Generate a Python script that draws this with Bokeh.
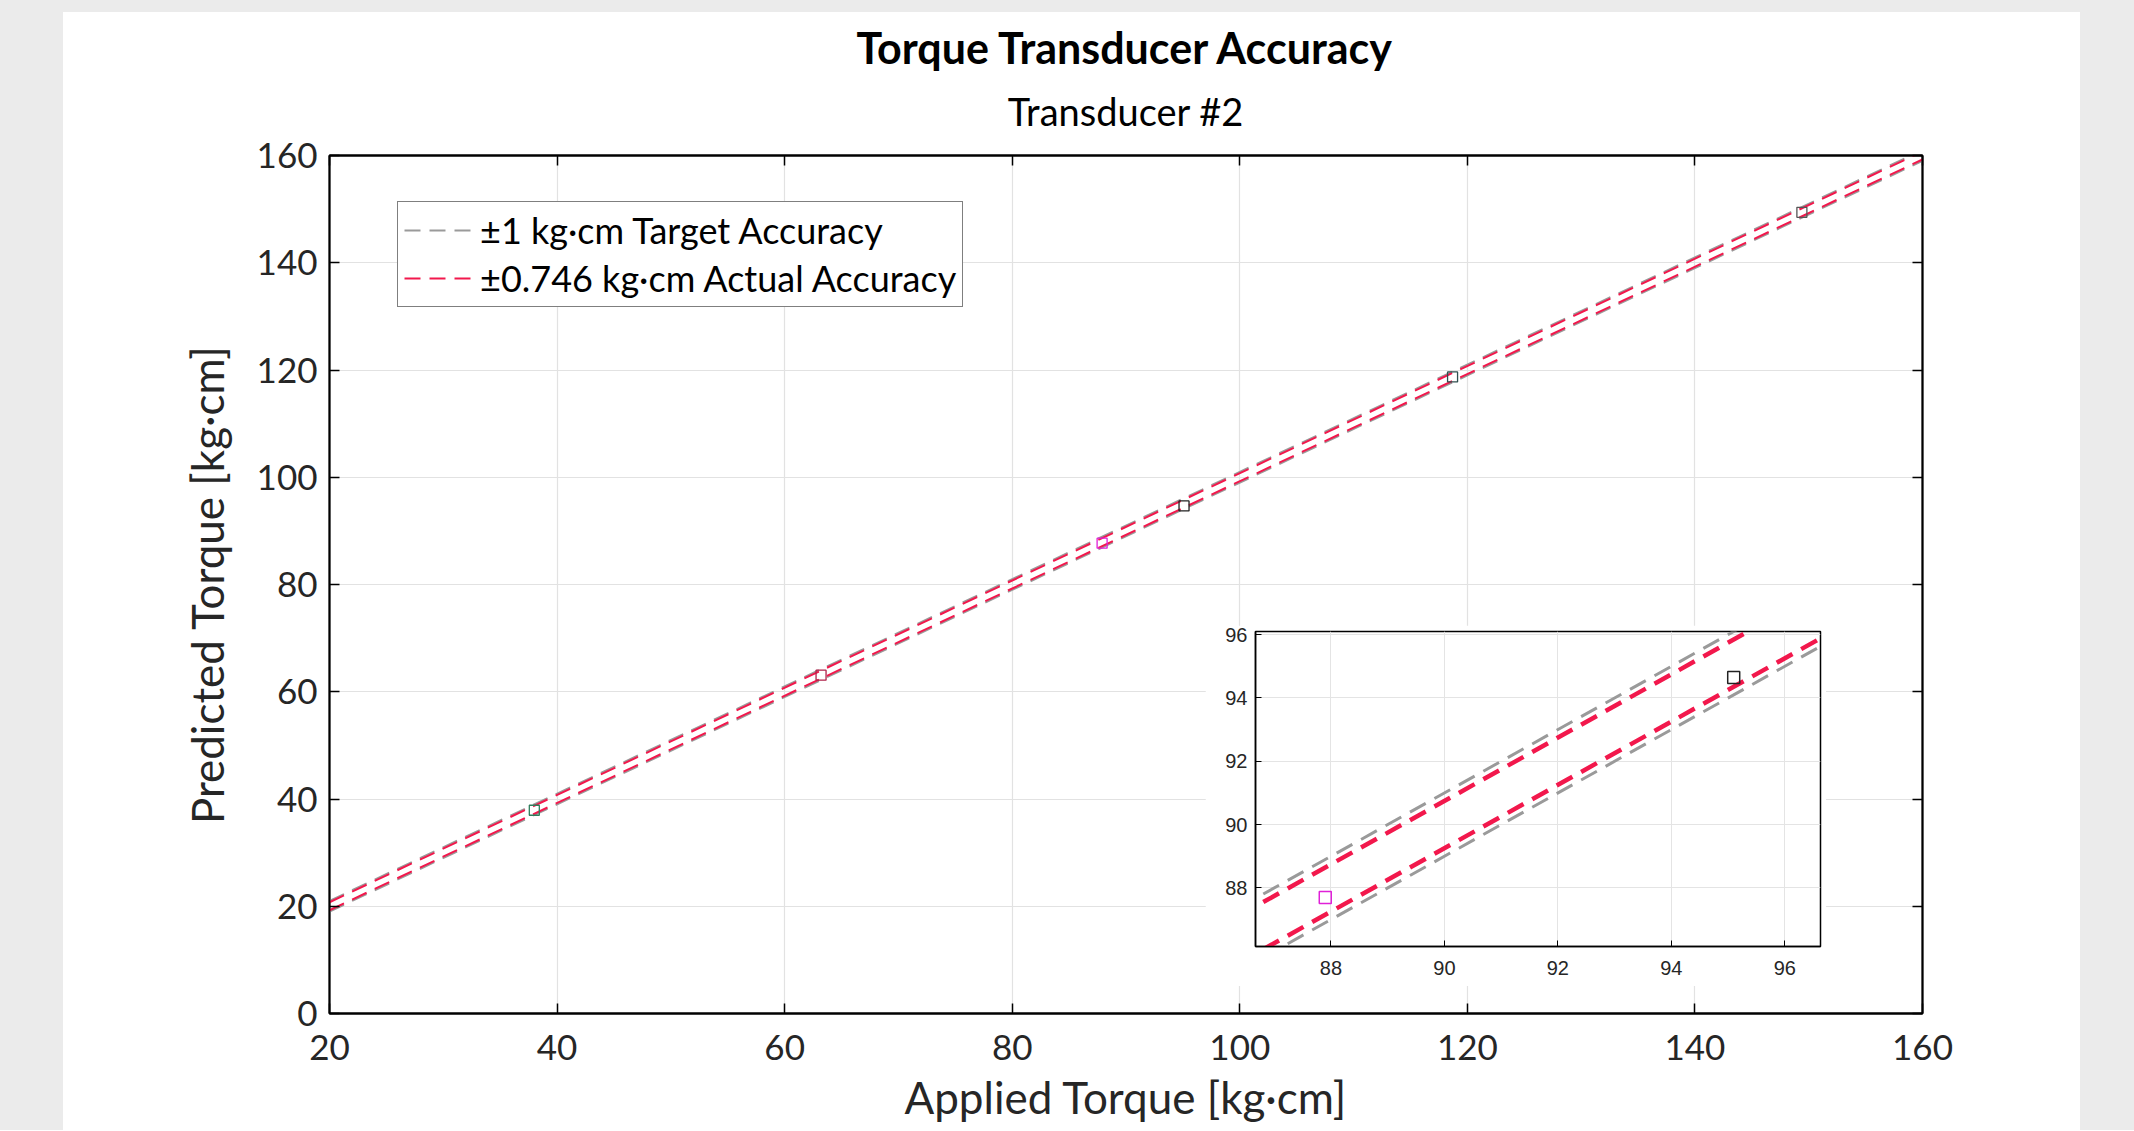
from bokeh.plotting import figure
from bokeh.models import (Title, LinearAxis, FixedTicker, Legend, LegendItem,
                          Spacer, Range1d, CustomLabelingPolicy)
from bokeh.layouts import column, row
from bokeh.embed import file_html
from bokeh.resources import INLINE

# ---------------- data ----------------
title_text = "Torque Transducer Accuracy"
subtitle_text = "Transducer #2"
x_label = "Applied Torque [kg\u00b7cm]"
y_label = "Predicted Torque [kg\u00b7cm]"
target_label = "\u00b11 kg\u00b7cm Target Accuracy"
actual_label = "\u00b10.746 kg\u00b7cm Actual Accuracy"

x_ticks = [20, 40, 60, 80, 100, 120, 140, 160]
y_ticks = [0, 20, 40, 60, 80, 100, 120, 140, 160]

applied = [38.0, 63.2, 87.9, 95.1, 118.7, 149.4]
predicted = [37.9, 63.1, 87.7, 94.65, 118.7, 149.4]
point_colors = ["#2e7d5b", "#b0224a", "#e020d8", "#222222", "#2f4f4f", "#555555"]

band_x = [20, 160]
target_upper = [21.0, 161.0]
target_lower = [19.0, 159.0]
actual_upper = [20.746, 160.746]
actual_lower = [19.254, 159.254]

inset_x_ticks = [88, 90, 92, 94, 96]
inset_y_ticks = [88, 90, 92, 94, 96]
inset_applied = [87.9, 95.1]
inset_predicted = [87.7, 94.65]
inset_colors = ["#e020d8", "#222222"]

GRAY = "#9a9a9a"
RED = "#f2184c"
FONT = "Lato"
AX = "#262626"

# ---------------- main figure ----------------
p = figure(width=2017, height=1118, x_range=Range1d(20, 160), y_range=Range1d(0, 160),
           output_backend="svg", toolbar_location=None, title=None,
           min_border_left=266, min_border_right=158, min_border_top=143,
           min_border_bottom=117, background_fill_color="white",
           border_fill_color="white")
p.frame_align = False
p.outline_line_color = "black"
p.outline_line_width = 1.8

hide_labels = CustomLabelingPolicy(code="for (const i of indices) indices.unset(i)")

def style_axis(ax, ticks, show_labels=True, size="35px", standoff=12):
    ax.ticker = FixedTicker(ticks=ticks)
    ax.major_tick_in = 10
    ax.major_tick_out = 0
    ax.minor_tick_line_color = None
    ax.axis_line_color = "black"
    ax.axis_line_width = 1.8
    ax.major_tick_line_color = "black"
    ax.major_tick_line_width = 1.5
    if show_labels:
        ax.major_label_text_font = FONT
        ax.major_label_text_font_size = size
        ax.major_label_text_color = AX
        ax.major_label_standoff = standoff
    else:
        ax.major_label_policy = hide_labels
        ax.major_label_standoff = 0

style_axis(p.xaxis[0], x_ticks, standoff=21)
style_axis(p.yaxis[0], y_ticks, standoff=12)
p.xaxis.axis_label = x_label
p.yaxis.axis_label = y_label
for ax in (p.xaxis[0], p.yaxis[0]):
    ax.axis_label_text_font = FONT
    ax.axis_label_text_font_size = "44px"
    ax.axis_label_text_font_style = "normal"
    ax.axis_label_text_color = AX
p.xaxis.axis_label_standoff = 8
p.yaxis.axis_label_standoff = 21

top_ax = LinearAxis()
style_axis(top_ax, x_ticks, show_labels=False)
p.add_layout(top_ax, "above")
right_ax = LinearAxis()
style_axis(right_ax, y_ticks, show_labels=False)
p.add_layout(right_ax, "right")

p.add_layout(Title(text=subtitle_text, align="center", text_font=FONT,
                   text_font_size="38px", text_font_style="normal",
                   text_color="black", standoff=21), "above")
p.add_layout(Title(text=title_text, align="center", text_font=FONT,
                   text_font_size="43px", text_font_style="bold",
                   text_color="black", standoff=5), "above")

p.xgrid.grid_line_color = "#e2e2e2"
p.ygrid.grid_line_color = "#e2e2e2"
p.xgrid.grid_line_width = 1.2
p.ygrid.grid_line_width = 1.2

r_tu = p.line(band_x, target_upper, line_color=GRAY, line_width=2, line_dash="16 9")
r_tl = p.line(band_x, target_lower, line_color=GRAY, line_width=2, line_dash="16 9")
r_au = p.line(band_x, actual_upper, line_color=RED, line_width=2, line_dash="16 9")
r_al = p.line(band_x, actual_lower, line_color=RED, line_width=2, line_dash="16 9")

p.scatter(applied, predicted, marker="square", size=10, fill_color=None,
          line_color=point_colors, line_width=1.3)

legend = Legend(items=[LegendItem(label=target_label, renderers=[r_tu]),
                       LegendItem(label=actual_label, renderers=[r_au])],
                location=(68, 706), orientation="vertical",
                label_text_font=FONT, label_text_font_size="36px",
                label_text_color="black", glyph_width=70, glyph_height=44,
                label_height=44, label_standoff=6, spacing=4, padding=6,
                margin=0, border_line_color="black", border_line_width=1.5,
                background_fill_color="white", background_fill_alpha=1)
p.add_layout(legend, "center")

# ---------------- inset figure ----------------
pi = figure(width=621, height=361, x_range=Range1d(86.67, 96.63),
            y_range=Range1d(86.15, 96.1), output_backend="svg",
            toolbar_location=None, title=None,
            min_border_left=50, min_border_right=6, min_border_top=6,
            min_border_bottom=40, background_fill_color="white",
            border_fill_color="white", margin=(-505, 0, 0, 1142))
pi.frame_align = False
pi.outline_line_color = "black"
pi.outline_line_width = 1.5
for ax, ticks in ((pi.xaxis[0], inset_x_ticks), (pi.yaxis[0], inset_y_ticks)):
    ax.ticker = FixedTicker(ticks=ticks)
    ax.major_tick_in = 6
    ax.major_tick_out = 0
    ax.minor_tick_line_color = None
    ax.axis_line_color = "black"
    ax.axis_line_width = 1.5
    ax.major_tick_line_color = "black"
    ax.major_label_text_font = "Liberation Sans"
    ax.major_label_text_font_size = "20px"
    ax.major_label_text_color = AX
pi.xaxis.major_label_standoff = 14
pi.yaxis.major_label_standoff = 8
pi.xgrid.grid_line_color = "#e4e4e4"
pi.ygrid.grid_line_color = "#e4e4e4"

pi.line(band_x, target_upper, line_color=GRAY, line_width=3, line_dash="18 10")
pi.line(band_x, target_lower, line_color=GRAY, line_width=3, line_dash="18 10")
pi.line(band_x, actual_upper, line_color=RED, line_width=4.5, line_dash="18 10")
pi.line(band_x, actual_lower, line_color=RED, line_width=4.5, line_dash="18 10")
pi.scatter(inset_applied, inset_predicted, marker="square", size=12,
           fill_color=None, line_color=inset_colors, line_width=1.5)

# ---------------- layout ----------------
BG = "#ebebeb"
left_sp = Spacer(width=63, height=1118, styles={"background-color": BG})
right_sp = Spacer(width=54, height=1118, styles={"background-color": BG})
top_sp = Spacer(width=2134, height=12, styles={"background-color": BG})
layout = column(top_sp, row(left_sp, column(p, pi), right_sp))

open("out.html", "w").write(file_html(layout, INLINE))
